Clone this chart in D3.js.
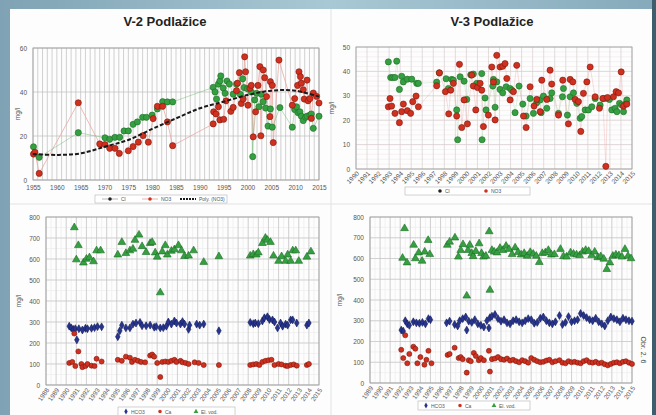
<!DOCTYPE html>
<html>
<head>
<meta charset="utf-8">
<script src="https://cdn.jsdelivr.net/npm/d3@7"></script>
<style>
  body { margin: 0; background: #fff; }
  text { font-family: "Liberation Sans", Arial, sans-serif; }
</style>
</head>
<body>
<svg id="page" width="656" height="415"></svg>
<script>
// ---- V-2 Podlazice: Cl, NO3 (year, mg/l) ----
var v2Cl = [[1955.1,15.1],[1956.3,10.3],[1964.5,21.5],[1970.1,19.2],[1971.1,18.5],[1972.2,19.4],[1973.2,19.4],
  [1974.1,22.3],[1975.0,22.3],[1976.0,25.3],[1976.9,26.4],[1978.0,28.5],[1978.8,28.5],[1980.0,29.5],[1981.1,32.3],
  [1982.2,35.6],[1983.2,35.5],[1984.3,35.5],
  [1992.8,42.1],[1993.2,40],[1993.5,36.8],[1993.9,43.6],[1994.2,45],[1994.4,47.3],[1994.9,41.8],[1995.3,39.4],
  [1995.7,45],[1996.2,43.6],[1997.0,39],[1997.7,43.6],[1998.5,38.9],[1999.0,46],[1999.3,42],[2000.0,41.5],
  [2000.8,40],[2001.1,10.6],[2001.5,36.4],[2001.9,39.4],[2002.4,33.3],[2002.9,39],[2003.3,35.6],[2003.8,32.7],
  [2004.3,24.5],[2004.8,32.3],[2005.2,24],[2006.8,32.9],
  [2009.4,24],[2009.9,32],[2010.3,33.3],[2010.6,30.6],[2011.0,31],[2011.3,29],[2011.7,27],[2012.2,28.5],
  [2012.5,29],[2013.1,29.5],[2013.4,30],[2013.8,23.5],[2015.0,29]];
var v2NO3 = [[1955.1,11.8],[1955.4,12.6],[1956.3,3],[1964.5,35.1],[1969.0,16.4],[1970.1,16.1],[1971.1,14.4],
  [1972.2,14.4],[1973.1,12.1],[1975.0,13.3],[1976.0,15.2],[1977.1,17.2],[1978.1,20.2],[1979.2,17.2],[1980.2,27.9],
  [1981.1,33.5],[1982.2,33.5],[1983.2,26.4],[1984.3,15.6],
  [1992.8,25.5],[1992.9,31],[1993.4,30],[1993.9,33.3],[1994.2,27.3],[1995.0,27.6],[1995.5,36],[1996.5,31.2],
  [1997.0,33],[1997.7,40.6],[1997.9,44],[1998.3,48.8],[1998.7,34.8],[1999.1,36.8],[1999.4,56],[1999.6,49.2],
  [2000.1,34],[2000.5,41.7],[2000.8,43],[2001.2,19.6],[2001.7,31],[2002.2,43],[2002.6,51.5],[2002.8,20.1],
  [2003.3,50],[2003.6,46.5],[2004.0,37.9],[2004.7,28.8],[2004.8,44.7],[2005.2,43],[2005.4,17],[2006.6,54.5],
  [2009.4,34],[2009.9,37],[2010.5,43],[2010.8,49.2],[2011.1,47],[2011.3,44],[2011.7,41],[2011.9,36.8],
  [2012.5,45.4],[2012.7,36],[2013.1,37],[2013.4,28],[2013.8,39.5],[2014.5,38],[2015.0,35]];
// polynomial trend
var v2Trend = [[1955,11.8],[1960,11.4],[1965,12.1],[1970,15.1],[1975,18.2],[1980,23.2],[1985,28],
  [1990,32.6],[1995,35.6],[2000,38.6],[2005,40.6],[2010,40.6],[2015,37.9]];

// ---- V-3 Podlazice: Cl, NO3 ----
var v3Cl = [[1992.93,43.9],[1993.14,37.5],[1993.32,37.5],[1993.53,37.5],[1993.69,44.2],[1993.93,32.6],[1994.14,38],
  [1994.29,35.7],[1994.65,36.8],[1995.05,36.8],[1995.5,35.1],[1995.65,35.1],[1997.31,35.6],[1997.55,39.4],
  [1998.16,37],[1998.37,33],[1998.67,36.7],[1998.82,36.4],[1999.12,24.2],[1999.21,12],[1999.43,37.8],[1999.79,36],
  [2000.03,28.5],[2000.39,38.6],[2000.63,38.9],[2000.94,35.1],[2001.39,39.1],[2001.42,12],[2001.69,29.1],
  [2001.78,24.2],[2002.39,34],[2002.45,36.7],[2002.6,25.3],[2002.75,35.7],[2003.05,32.6],[2003.29,31.2],
  [2003.6,33.7],[2003.96,33],[2004.11,32.3],[2004.41,23.1],[2004.77,34],[2005.11,26.6],[2005.41,21.7],
  [2005.77,28.9],[2006.07,22.8],[2006.37,27.2],[2006.68,28.3],[2006.77,23.1],[2006.98,29.9],[2007.28,24.9],
  [2007.58,28.9],[2007.73,31.2],[2008.34,22.8],[2008.7,29.6],[2008.79,33],[2009.15,22.1],[2009.4,29.6],
  [2009.7,31.2],[2010.0,26.9],[2010.3,20.8],[2010.45,21.5],[2010.76,24.2],[2011.06,24.2],[2011.36,25.5],
  [2011.66,28.9],[2012.11,26.2],[2012.42,28.9],[2012.72,28.9],[2012.96,28.5],[2013.17,24.2],[2013.47,24.9],
  [2013.63,23.5],[2013.87,26.9],[2014.08,26.2],[2014.23,23.5],[2014.47,26.9],[2014.53,28.3]];
var v3NO3 = [[1992.93,25.5],[1993.08,28.9],[1993.23,25.8],[1993.53,22.8],[1993.93,19],[1994.14,23.5],[1994.29,26.6],
  [1994.65,23.9],[1994.95,22.8],[1995.14,27.6],[1995.44,29.9],[1995.65,25.5],[1997.31,34.1],[1997.55,39.4],
  [1998.1,31.7],[1998.4,22.6],[1998.58,32.3],[1998.82,35.1],[1999.12,21.7],[1999.37,42.9],[1999.58,17],
  [1999.79,28.3],[2000.09,18.5],[2000.48,38.5],[2000.63,34],[2000.85,24.2],[2001.0,33.4],[2001.24,35.1],
  [2001.39,32.3],[2001.54,17.4],[2001.99,22.1],[2002.3,41.8],[2002.45,35.7],[2002.6,20.1],[2002.75,46.6],
  [2003.05,41.8],[2003.29,42.1],[2003.5,43.2],[2003.66,37.1],[2003.96,28.3],[2004.26,31.7],[2004.56,42.5],
  [2005.17,21.7],[2005.41,17],[2005.77,33.7],[2006.13,25.8],[2006.37,28.5],[2006.68,23.5],[2006.83,36.4],
  [2007.28,28.5],[2007.58,40.5],[2007.73,34.8],[2008.34,22.1],[2008.73,36.4],[2009.24,18.5],[2009.4,36.7],
  [2009.64,35.7],[2009.85,28.5],[2010.15,27.6],[2010.36,15.4],[2010.6,31],[2010.91,35.7],[2011.21,41.8],
  [2011.66,29.6],[2012.05,24.9],[2012.36,28.9],[2012.63,1.1],[2012.78,29.3],[2013.32,29.6],[2013.56,31.7],
  [2013.78,31.2],[2014.02,39.8],[2014.23,25.8],[2014.53,26.6]];

// ---- V-2: HCO3, Ca, EC ----
var v2HCO3 = [[1990.3,280],[1990.5,272],[1990.7,265],[1990.9,268],[1991.05,215],[1991.25,268],[1991.6,262],
  [1991.9,270],[1992.1,268],[1992.5,270],[1992.8,273],[1993.1,278],[1993.5,277],
  [1995.1,230],[1995.3,258],[1995.5,285],[1995.9,272],[1996.3,272],[1996.6,290],[1996.9,295],[1997.3,298],
  [1997.5,282],[1997.9,282],[1998.3,285],[1998.7,275],[1998.9,278],[1999.3,272],[1999.6,273],[1999.9,280],
  [2000.1,300],[2000.4,290],[2000.7,305],[2000.9,295],[2001.3,290],[2001.5,302],[2001.7,290],[2002.1,265],
  [2002.2,285],[2002.9,290],[2003.2,285],[2003.6,290],[2005.1,258],
  [2008.2,298],[2008.5,292],[2008.7,295],[2009.0,292],[2009.4,305],[2009.6,320],[2009.9,325],[2010.1,312],
  [2010.4,310],[2010.6,300],[2010.9,272],[2011.2,295],[2011.4,280],[2011.7,290],[2011.9,285],[2012.2,310],
  [2012.4,310],[2012.8,295],[2013.8,285],[2014.0,295]];
var v2Ca = [[1990.3,105],[1990.6,110],[1990.8,245],[1990.9,90],[1991.2,160],[1991.5,100],[1991.6,85],[1991.9,90],
  [1992.1,100],[1992.5,92],[1992.8,90],[1993.0,125],[1993.5,112],
  [1995.1,120],[1995.5,115],[1995.9,135],[1996.3,130],[1996.5,110],[1996.8,120],[1997.1,115],[1997.4,110],
  [1997.8,108],[1998.3,140],[1998.5,145],[1998.7,135],[1999.0,105],[1999.3,38],[1999.5,110],[1999.8,112],
  [2000.1,110],[2000.4,115],[2000.7,120],[2000.9,110],[2001.3,115],[2001.5,108],[2001.8,105],[2002.1,100],
  [2002.7,108],[2003.1,105],[2003.6,95],[2005.1,95],
  [2008.2,95],[2008.5,98],[2008.8,100],[2009.1,95],[2009.4,110],[2009.7,115],[2010.0,118],[2010.3,120],
  [2010.6,95],[2011.0,100],[2011.3,98],[2011.7,92],[2011.9,90],[2012.2,95],[2012.5,98],[2012.8,92],
  [2013.8,95],[2014.0,100]];
var v2EC = [[1990.8,750],[1991.0,597],[1991.2,665],[1991.7,582],[1992.0,600],[1992.3,607],[1992.7,588],
  [1993.0,640],[1993.4,640],
  [1995.1,620],[1995.5,680],[1995.9,627],[1996.3,640],[1996.6,648],[1996.8,690],[1997.2,715],[1997.5,660],
  [1997.9,632],[1998.3,675],[1998.5,680],[1998.8,630],[1999.0,610],[1999.3,440],[1999.5,635],[1999.8,665],
  [2000.0,620],[2000.4,638],[2000.7,645],[2001.1,665],[2001.4,640],[2001.7,613],[2002.1,615],[2002.6,640],
  [2003.6,585],[2005.1,612],
  [2008.2,615],[2008.5,622],[2008.8,620],[2009.0,630],[2009.4,675],[2009.7,700],[2009.9,690],[2010.2,680],
  [2010.5,615],[2011.0,590],[2011.3,612],[2011.7,590],[2011.9,620],[2012.2,590],[2012.4,640],[2012.7,640],
  [2013.0,590],[2013.8,610],[2014.2,635]];

// ---- V-3: HCO3, Ca, EC ----
var v3HCO3 = [[1992.1,255],[1992.3,250],[1992.5,300],[1992.7,285],[1992.9,278],[1993.3,295],[1993.6,290],
  [1993.9,288],[1994.2,292],[1994.5,285],[1994.8,310],[1995.0,305],
  [1996.6,290],[1996.9,298],[1997.4,282],[1997.7,275],[1997.9,300],[1998.2,310],[1998.5,318],[1998.6,255],
  [1998.8,298],[1999.1,292],[1999.4,305],[1999.7,285],[2000.0,278],[2000.3,270],[2000.6,300],[2000.8,265],
  [2000.9,315],[2001.1,322],[2001.4,330],
  [2001.7,310],[2002.0,298],[2002.3,305],[2002.6,290],[2002.9,285],[2003.2,300],[2003.5,305],[2003.8,295],
  [2004.1,290],[2004.4,300],[2004.7,310],[2005.0,305],[2005.3,288],[2005.6,292],[2005.9,312],[2006.2,318],
  [2006.5,300],[2006.8,290],[2007.1,285],[2007.4,295],[2007.8,325],[2008.1,282],[2008.4,292],[2008.7,320],
  [2009.0,295],[2009.3,300],[2009.6,305],[2009.9,335],[2010.2,325],[2010.5,315],[2010.8,305],[2011.1,300],
  [2011.4,312],[2011.7,295],[2012.0,285],[2012.3,275],[2012.6,300],[2012.9,318],[2013.2,310],[2013.5,305],
  [2013.8,295],[2014.1,312],[2014.4,305],[2014.7,300],[2015.0,298]];
var v3Ca = [[1992.1,160],[1992.3,120],[1992.5,230],[1992.7,95],[1992.9,140],[1993.3,175],[1993.5,165],
  [1993.7,95],[1994.0,125],[1994.4,88],[1994.6,112],[1994.8,155],[1995.1,95],
  [1996.7,135],[1996.9,140],[1997.4,170],[1997.8,120],[1998.0,125],[1998.2,115],[1998.6,50],[1998.8,110],
  [1999.0,105],[1999.3,145],[1999.5,130],[1999.8,110],[2000.0,120],[2000.3,110],[2000.8,155],[2000.9,55],
  [2001.1,115],
  [2001.4,118],[2001.7,125],[2002.0,115],[2002.3,112],[2002.6,118],[2002.9,108],[2003.2,112],[2003.5,105],
  [2003.8,100],[2004.1,110],[2004.4,105],[2004.7,98],[2005.0,120],[2005.3,112],[2005.6,105],[2005.9,100],
  [2006.2,102],[2006.5,108],[2006.8,112],[2007.1,100],[2007.4,105],[2007.8,110],[2008.1,98],[2008.4,95],
  [2008.7,105],[2009.0,100],[2009.3,102],[2009.6,98],[2009.9,95],[2010.2,105],[2010.5,110],[2010.8,100],
  [2011.1,98],[2011.4,102],[2011.7,95],[2012.0,98],[2012.3,90],[2012.6,85],[2012.9,92],[2013.2,98],
  [2013.5,100],[2013.8,95],[2014.1,102],[2014.4,105],[2014.7,98],[2015.0,92]];
var v3EC = [[1992.23,602],[1992.43,745],[1992.67,580],[1993.33,665],[1993.5,600],[1993.83,628],[1994.17,588],
  [1994.43,632],[1994.77,688],[1994.93,620],
  [1996.67,665],[1996.9,680],[1997.43,700],[1997.77,608],[1998.0,640],[1998.23,668],[1998.6,420],[1998.73,640],
  [1998.9,665],[1999.1,625],[1999.23,610],[1999.5,635],[1999.83,672],[2000.07,625],[2000.27,608],[2000.5,612],
  [2000.83,730],[2000.9,448],[2001.1,640],[2001.33,632],
  [2001.6,628],[2001.9,650],[2002.2,640],[2002.5,660],[2002.8,645],[2003.1,620],[2003.4,652],[2003.7,630],
  [2004.0,618],[2004.3,625],[2004.6,612],[2004.9,630],[2005.2,622],[2005.5,612],[2005.8,582],[2006.1,625],
  [2006.4,628],[2006.7,640],[2007.0,618],[2007.3,620],[2007.9,645],[2008.2,610],[2008.5,608],[2008.9,628],
  [2009.2,622],[2009.5,618],[2009.8,615],[2010.1,632],[2010.4,640],[2010.7,635],[2011.0,615],[2011.3,632],
  [2011.6,605],[2011.9,610],[2012.2,598],[2012.5,548],[2012.8,580],[2013.1,612],[2013.4,618],[2013.7,615],
  [2014.0,608],[2014.3,645],[2014.6,612],[2014.9,600]];

var titles = ['V-2 Podlažice', 'V-3 Podlažice'];
var tlYears = d3.range(1955, 2016, 5);

var GREEN = '#35a041', GREEN_DK = '#1c6b25';
var RED = '#cf3020', RED_DK = '#821509';
var BLUE = '#27358f', BLUE_DK = '#111a58';

var svg = d3.select('#page');

// background: blue scan border and white page
var defs = svg.append('defs');
var grad = defs.append('linearGradient').attr('id', 'bg').attr('x1', 0).attr('x2', 1).attr('y1', 0).attr('y2', 0);
grad.append('stop').attr('offset', '0%').attr('stop-color', '#7fa3b4');
grad.append('stop').attr('offset', '50%').attr('stop-color', '#a9c8d5');
grad.append('stop').attr('offset', '100%').attr('stop-color', '#86aabb');
svg.append('rect').attr('width', 656).attr('height', 415).attr('fill', 'url(#bg)');
svg.append('rect').attr('x', 652).attr('y', 0).attr('width', 4).attr('height', 415).attr('fill', '#3e5e6e');
svg.append('rect').attr('x', 10).attr('y', 9).attr('width', 642).attr('height', 406).attr('fill', '#fdfdfd');
svg.append('line').attr('x1', 331).attr('x2', 331).attr('y1', 9).attr('y2', 415).attr('stroke', '#e2e2e2');
svg.append('line').attr('x1', 10).attr('x2', 652).attr('y1', 204).attr('y2', 204).attr('stroke', '#e2e2e2');

function panel(p) {
  var x = d3.scaleLinear().domain(p.xDomain).range([p.left, p.right]);
  var y = d3.scaleLinear().domain(p.yDomain).range([p.bottom, p.top]);
  var g = svg.append('g');

  function vlines(vals, color) {
    g.selectAll(null).data(vals).enter().append('line')
      .attr('x1', function(d) { return x(d); }).attr('x2', function(d) { return x(d); })
      .attr('y1', p.top).attr('y2', p.bottom)
      .attr('stroke', color).attr('stroke-width', 0.7);
  }
  function hlines(vals, color) {
    g.selectAll(null).data(vals).enter().append('line')
      .attr('y1', function(d) { return y(d); }).attr('y2', function(d) { return y(d); })
      .attr('x1', p.left).attr('x2', p.right)
      .attr('stroke', color).attr('stroke-width', 0.7);
  }
  if (p.minorX) vlines(d3.range(p.xDomain[0], p.xDomain[1], p.minorX), p.minorColor);
  if (p.minorY) hlines(d3.range(p.yDomain[0], p.yDomain[1], p.minorY), p.minorColor);
  vlines(d3.range(p.xDomain[0], p.xDomain[1] + 0.01, p.gridX), p.gridColor);
  hlines(d3.range(p.yDomain[0], p.yDomain[1] + 0.01, p.gridY), p.gridColor);

  g.append('rect').attr('x', p.left).attr('y', p.top)
    .attr('width', p.right - p.left).attr('height', p.bottom - p.top)
    .attr('fill', 'none').attr('stroke', '#9a9a9a').attr('stroke-width', 0.8);

  var ya = g.append('g').attr('transform', 'translate(' + p.left + ',0)')
    .call(d3.axisLeft(y).tickValues(d3.range(p.yDomain[0], p.yDomain[1] + 0.01, p.gridY)).tickSize(0).tickPadding(6));
  ya.select('.domain').remove();
  ya.selectAll('text').attr('font-size', 6.5).attr('fill', '#555').style('font-family', '"Liberation Sans", Arial, sans-serif');

  var xa = g.append('g').attr('transform', 'translate(0,' + p.bottom + ')')
    .call(d3.axisBottom(x).tickValues(p.xTicks).tickFormat(d3.format('d')).tickSize(0).tickPadding(5));
  xa.select('.domain').remove();
  xa.selectAll('text').attr('font-size', 6.5).attr('fill', '#555').style('font-family', '"Liberation Sans", Arial, sans-serif');
  if (p.rotate) {
    xa.selectAll('text').attr('y', 0).attr('dy', 0).attr('text-anchor', 'end')
      .attr('transform', 'translate(3,5) rotate(' + p.rotate + ')');
  }

  g.append('text').attr('transform', 'translate(' + p.yLabelX + ',' + ((p.top + p.bottom) / 2) + ') rotate(-90)')
    .attr('text-anchor', 'middle').attr('font-size', 6.5).attr('fill', '#555').text('mg/l');

  if (p.title) {
    g.append('text').attr('x', p.titleX).attr('y', 26).attr('text-anchor', 'middle')
      .attr('font-size', 13).attr('font-weight', 'bold').attr('fill', '#222').text(p.title);
  }
  return { x: x, y: y, g: g };
}

function connect(ch, data, color, width, opacity) {
  var line = d3.line().x(function(d) { return ch.x(d[0]); }).y(function(d) { return ch.y(d[1]); });
  ch.g.append('path').datum(data).attr('d', line).attr('fill', 'none')
    .attr('stroke', color).attr('stroke-width', width).attr('opacity', opacity);
}

function marks(ch, data, type, size, fill, stroke) {
  ch.g.selectAll(null).data(data).enter().append('path')
    .attr('d', d3.symbol().type(type).size(size))
    .attr('transform', function(d) { return 'translate(' + ch.x(d[0]) + ',' + ch.y(d[1]) + ')'; })
    .attr('fill', fill).attr('stroke', stroke).attr('stroke-width', 0.6);
}

function legend(x0, y0, w, h, items) {
  var lg = svg.append('g').attr('transform', 'translate(' + x0 + ',' + y0 + ')');
  lg.append('rect').attr('width', w).attr('height', h).attr('fill', '#fff')
    .attr('stroke', '#b5b5b5').attr('stroke-width', 0.6);
  items.forEach(function(it) {
    var cy = h / 2;
    if (it.line) {
      lg.append('line').attr('x1', it.x - 8).attr('x2', it.x + 8).attr('y1', cy).attr('y2', cy)
        .attr('stroke', it.line).attr('stroke-width', it.lineWidth || 0.7)
        .attr('stroke-dasharray', it.dash || null);
    }
    if (it.type) {
      lg.append('path').attr('d', d3.symbol().type(it.type).size(it.size || 10))
        .attr('transform', 'translate(' + it.x + ',' + cy + ')').attr('fill', it.fill);
    }
    lg.append('text').attr('x', it.x + (it.line ? 11 : 5)).attr('y', cy + 2)
      .attr('font-size', 5).attr('fill', '#555').text(it.label);
  });
}

// ---- top left: V-2 Cl / NO3 ----
var tl = panel({ left: 33, right: 319, top: 48, bottom: 180, xDomain: [1955, 2015], yDomain: [0, 60],
  gridX: 1, gridY: 20, gridColor: '#bdbdbd', xTicks: tlYears, yLabelX: 20,
  title: titles[0], titleX: 165 });
connect(tl, v2NO3, '#e8a19c', 0.8, 0.9);
connect(tl, v2Cl, '#5cb565', 0.7, 0.6);
marks(tl, v2Cl, d3.symbolCircle, 30, GREEN, GREEN_DK);
marks(tl, v2NO3, d3.symbolCircle, 30, RED, RED_DK);
tl.g.append('path').datum(v2Trend)
  .attr('d', d3.line().curve(d3.curveCardinal)
    .x(function(d) { return tl.x(d[0]); }).y(function(d) { return tl.y(d[1]); }))
  .attr('fill', 'none').attr('stroke', '#1a1a1a').attr('stroke-width', 2).attr('stroke-dasharray', '4,2');
legend(95, 195, 132, 8, [
  { x: 15, label: 'Cl', line: '#999', type: d3.symbolCircle, fill: '#222' },
  { x: 55, label: 'NO3', line: '#e58f8a', type: d3.symbolCircle, fill: RED },
  { x: 93, label: 'Poly. (NO3)', line: '#1a1a1a', lineWidth: 2, dash: '2,1' }
]);

// ---- top right: V-3 Cl / NO3 ----
var tr = panel({ left: 356, right: 632, top: 47, bottom: 169, xDomain: [1990, 2015], yDomain: [0, 50],
  gridX: 1, gridY: 10, gridColor: '#d8cfcf', minorY: 2, minorColor: '#f3eded',
  xTicks: d3.range(1990, 2016), rotate: -45, yLabelX: 334,
  title: titles[1], titleX: 492 });
connect(tr, v3NO3, '#e8a6a2', 0.6, 0.6);
connect(tr, v3Cl, '#9fd2a5', 0.6, 0.5);
marks(tr, v3Cl, d3.symbolCircle, 30, GREEN, GREEN_DK);
marks(tr, v3NO3, d3.symbolCircle, 30, RED, RED_DK);
legend(405, 187, 125, 8, [
  { x: 35, label: 'Cl', type: d3.symbolCircle, fill: '#222' },
  { x: 81, label: 'NO3', type: d3.symbolCircle, fill: RED }
]);

// ---- bottom left: V-2 HCO3 / Ca / EC ----
var bl = panel({ left: 46, right: 319, top: 217, bottom: 385, xDomain: [1988, 2015], yDomain: [0, 800],
  gridX: 1, gridY: 100, gridColor: '#c4c4c4', minorX: 0.5, minorY: 50, minorColor: '#ececec',
  xTicks: d3.range(1988, 2016), rotate: -55, yLabelX: 21 });
marks(bl, v2EC, d3.symbolTriangle, 26, GREEN, GREEN_DK);
marks(bl, v2HCO3, d3.symbolDiamond, 18, BLUE, BLUE_DK);
marks(bl, v2Ca, d3.symbolCircle, 20, RED, RED_DK);
legend(118, 407, 117, 9, [
  { x: 8, label: 'HCO3', type: d3.symbolDiamond, fill: BLUE },
  { x: 42, label: 'Ca', type: d3.symbolCircle, fill: RED },
  { x: 78, label: 'El. vod.', type: d3.symbolTriangle, fill: GREEN }
]);

// ---- bottom right: V-3 HCO3 / Ca / EC ----
var br = panel({ left: 370, right: 632, top: 217, bottom: 383, xDomain: [1989, 2015], yDomain: [0, 800],
  gridX: 1, gridY: 100, gridColor: '#c4c4c4', minorX: 0.5, minorY: 50, minorColor: '#ececec',
  xTicks: d3.range(1989, 2016), rotate: -55, yLabelX: 342 });
marks(br, v3EC, d3.symbolTriangle, 26, GREEN, GREEN_DK);
marks(br, v3HCO3, d3.symbolDiamond, 18, BLUE, BLUE_DK);
marks(br, v3Ca, d3.symbolCircle, 20, RED, RED_DK);
legend(418, 401, 112, 9, [
  { x: 8, label: 'HCO3', type: d3.symbolDiamond, fill: BLUE },
  { x: 42, label: 'Ca', type: d3.symbolCircle, fill: RED },
  { x: 76, label: 'El. vod.', type: d3.symbolTriangle, fill: GREEN }
]);

svg.append('text').attr('transform', 'translate(641,350) rotate(90)')
  .attr('text-anchor', 'middle').attr('font-size', 7).attr('fill', '#444').text('Obr. 2. 6');
</script>
</body>
</html>
